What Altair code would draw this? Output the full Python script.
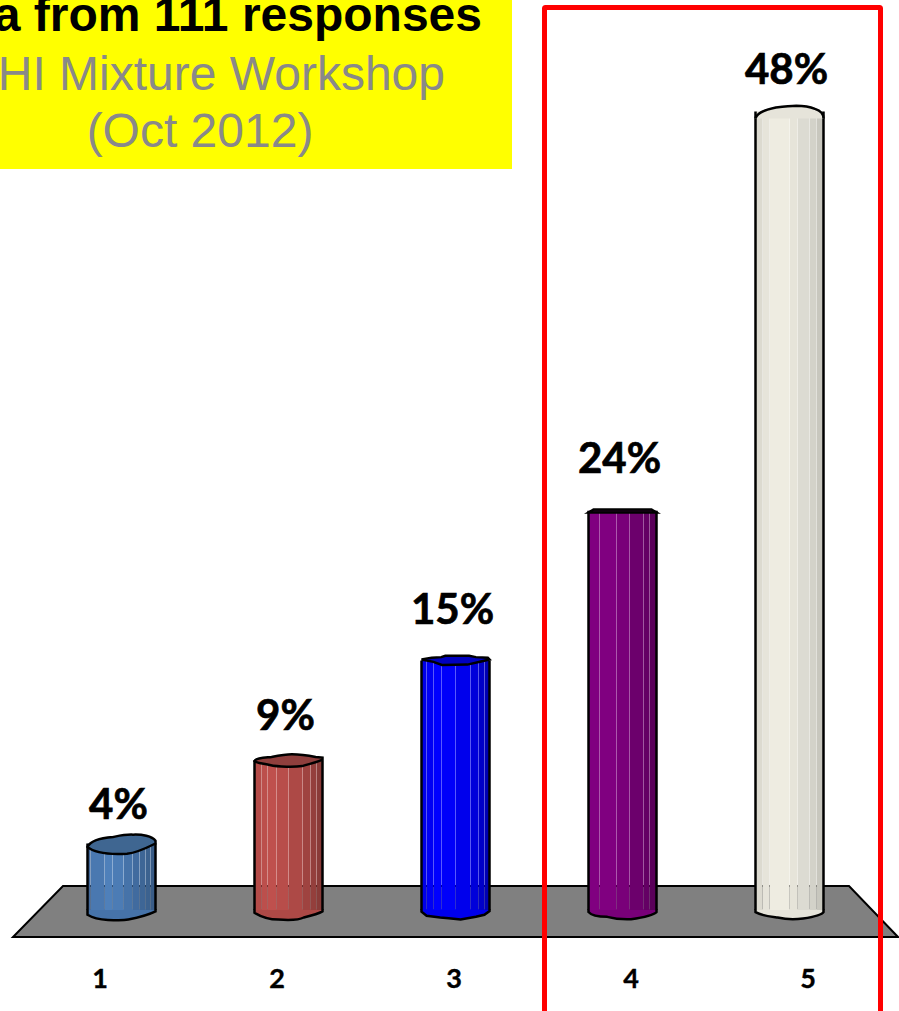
import altair as alt
import pandas as pd

# Survey results
answers = ["1", "2", "3", "4", "5"]
shares = [4, 9, 15, 24, 48]
share_labels = ["4%", "9%", "15%", "24%", "48%"]

title_bold = "a from 111 responses"
title_line2 = "HI Mixture Workshop"
title_line3 = "(Oct 2012)"

W, H = 899, 1011
COLUMN_WIDTH = 68
OUTLINE = 2.5

# The columns and the answer numbers below the floor sit on different bands
x_scale = alt.Scale(domain=answers, range=[38, 873], paddingInner=0, paddingOuter=0)
x_labels = alt.Scale(domain=answers, range=[11.5, 896.5], paddingInner=0, paddingOuter=0)
y_scale = alt.Scale(domain=[-6.07, 54.71], range=[H, 0], nice=False, zero=False)

X = alt.X("answer:N", scale=x_scale, axis=None)
Y = alt.Y("share:Q", scale=y_scale, axis=None)

# Facet colours of each column: (right edge of the facet, colour)
FACETS = [
    [(.05, "#43699b"), (.25, "#4a78b0"), (.37, "#4f80ba"), (.53, "#4c7cb5"), (.655, "#4673a9"),
     (.767, "#416b9f"), (.85, "#3e6696"), (.93, "#3c628f"), (1, "#395c87")],
    [(.105, "#b44b48"), (.195, "#bc4f4c"), (.32, "#bf504d"), (.5, "#b84d4a"), (.705, "#ad4946"),
     (.83, "#9f4340"), (.91, "#943f3c"), (1, "#8a3b38")],
    [(.08, "#0000e8"), (.17, "#0000f4"), (.3, "#0000ff"), (.5, "#0000fa"), (.72, "#0000ec"),
     (.84, "#0000da"), (.92, "#0000c8"), (1, "#0000b4")],
    [(.16, "#800080"), (.41, "#800080"), (.6, "#790079"), (.81, "#6c006c"), (.9, "#640064"),
     (1, "#5a005a")],
    [(.1, "#dcdad0"), (.2, "#e6e4da"), (.5, "#eeece1"), (.62, "#e6e4d9"), (.79, "#dcdbd2"),
     (.9, "#d3d2c9"), (1, "#c8c7be")],
]
# Top faces, as unit outlines
TOPS = [
    ("#3f6691", "M-1,.1 C-.9,-.1 -.5,-.17 -.25,-.19 C-.1,-.22 .1,-.27 .34,-.26 C.6,-.27 .9,-.22 1,-.08 "
                "L1,0 C.7,.15 .4,.28 .16,.3 C-.2,.32 -.75,.32 -1,.1 Z"),
    ("#8f3f3d", "M-1,.02 C-.95,-.08 -.7,-.08 -.5,-.1 C-.3,-.14 -.1,-.18 .1,-.18 C.4,-.18 .6,-.14 .8,-.1 "
                "L1,-.08 L1,-.02 C.8,.08 .6,.1 .4,.17 C.2,.2 -.3,.2 -.55,.14 C-.8,.08 -.95,.08 -1,.02 Z"),
    ("#0000c0", "M-1,-.03 L-.7,-.08 L-.42,-.1 L-.3,-.14 L.4,-.14 L.6,-.1 L.95,-.08 L1,-.03 "
                "L.75,.03 L.35,.12 L-.4,.13 L-.65,.04 Z"),
    ("#3a003a", "M-1,.05 L-.85,-.04 L.85,-.04 L1,.05 Z"),
    ("#e6e4da", "M-1,.2 C-.95,.02 -.6,-.08 -.4,-.12 C-.2,-.14 0,-.16 .2,-.17 C.4,-.17 .6,-.14 .75,-.08 "
                "C.9,-.03 1,.08 1,.2"),
]
# Lower rims, as open unit curves rising back to the foot of the column body
BASES = [
    "M-1,-.02 L-1,.14 C-.8,.26 -.6,.28 -.4,.29 C-.2,.3 .1,.3 .2,.28 C.5,.22 .8,.14 1,.04 L1,-.02",
    "M-1,-.02 L-1,.08 C-.8,.2 -.5,.28 -.3,.28 C0,.3 .3,.3 .45,.22 C.7,.16 .9,.1 1,.04 L1,-.02",
    "M-1,-.02 L-1,.05 L-.85,.17 L-.45,.22 L-.2,.24 L.15,.28 L.6,.2 L.85,.14 L1,.03 L1,-.02",
    "M-1,-.02 L-1,.06 C-.9,.18 -.6,.2 -.45,.2 C-.3,.24 0,.28 .25,.27 C.6,.22 .9,.16 1,.06 L1,-.02",
    "M-1,-.02 L-1,.06 C-.8,.18 -.5,.2 -.35,.22 C-.1,.28 .2,.28 .4,.25 C.7,.2 .95,.14 1,.06 L1,-.02",
]
RIM_FILL = ["#4673a9", "#ad4946", "#0000ec", "#790079", "#e6e4da"]
LABEL_DY = [6, 0, -7, -8, 2]
# Floor plate as a unit outline around the middle of the chart's lower band
FLOOR_PATH = "M-.9711,.0567 L.9956,.0567 L.8867,-.0567 L-.86,-.0567 Z"


def rgba(colour, alpha):
    r, g, b = (int(colour[i:i + 2], 16) for i in (1, 3, 5))
    return f"rgba({r},{g},{b},{alpha})"


def facet_gradient(facets):
    """Horizontal gradient with hard facets and thin see-through seams between them."""
    seam = 0.007
    stops, start = [], 0.0
    for end, colour in facets:
        stops.append(alt.GradientStop(offset=round(start + (seam if start else 0), 4), color=colour))
        stops.append(alt.GradientStop(offset=round(end - (seam if end < 1 else 0), 4), color=colour))
        if end < 1:
            stops.append(alt.GradientStop(offset=round(end - seam, 4), color=rgba(colour, .65)))
            stops.append(alt.GradientStop(offset=round(end + seam, 4), color=rgba(colour, .65)))
        start = end
    return alt.Gradient(gradient="linear", x1=0, x2=1, y1=0, y2=0, stops=stops)


rows = pd.DataFrame({"answer": answers, "share": shares, "label": share_labels, "zero": [0] * 5})
one = pd.DataFrame({"k": [0]})

# Backdrop: yellow caption box and grey floor plate
caption_box = alt.Chart(one).mark_rect(color="#ffff00").encode(
    x=alt.value(0), x2=alt.value(512), y=alt.value(0), y2=alt.value(169))

floor = alt.Chart(one).mark_point(
    shape=FLOOR_PATH, size=900 ** 2, filled=True, fill="#808080", stroke="#000000", strokeWidth=2, opacity=1
).encode(x=alt.value(450), y=alt.value(911.5))

layers = [caption_box, floor]

for i, ans in enumerate(answers):
    row = rows[rows.answer == ans]
    size = COLUMN_WIDTH ** 2
    top_fill, top_path = TOPS[i]

    base = alt.Chart(row).mark_point(
        shape=BASES[i], size=size, filled=True, stroke="#000000", strokeWidth=OUTLINE, opacity=1
    ).encode(x=X, y=alt.Y("zero:Q", scale=y_scale, axis=None), fill=alt.value(RIM_FILL[i]))
    body = alt.Chart(row).mark_bar(
        width=COLUMN_WIDTH, fill=facet_gradient(FACETS[i]), stroke=None, opacity=1
    ).encode(x=X, y=Y, y2="zero:Q")
    left_edge = alt.Chart(row).mark_rule(color="#000000", strokeWidth=OUTLINE, xOffset=-COLUMN_WIDTH / 2).encode(
        x=X, y=Y, y2="zero:Q")
    right_edge = alt.Chart(row).mark_rule(color="#000000", strokeWidth=OUTLINE, xOffset=COLUMN_WIDTH / 2).encode(
        x=X, y=Y, y2="zero:Q")
    top = alt.Chart(row).mark_point(
        shape=top_path, size=size, filled=True, fill=top_fill, stroke="#000000", strokeWidth=OUTLINE, opacity=1
    ).encode(x=X, y=Y)
    value = alt.Chart(row).mark_text(
        font="Lato", fontWeight="bold", fontSize=42, color="#000000", baseline="middle",
        stroke="#000000", strokeWidth=0.7, dx=-3, dy=LABEL_DY[i] - 43,
    ).encode(x=X, y=Y, text="label:N")
    layers += [base, body, left_edge, right_edge, top, value]

# Answer numbers below the floor
tick_text = alt.Chart(rows).mark_text(
    font="Lato", fontWeight="bold", fontSize=27, color="#000000", baseline="middle",
    stroke="#000000", strokeWidth=0.4,
).encode(
    x=alt.X("answer:N", scale=x_labels, axis=None),
    y=alt.value(980),
    text="answer:N",
)
layers.append(tick_text)

# Red frame, open past the bottom edge
frame = alt.Chart(one).mark_rect(
    fillOpacity=0, stroke="#ff0000", strokeWidth=5, cornerRadius=1
).encode(x=alt.value(544.5), x2=alt.value(880.5), y=alt.value(7.5), y2=alt.value(1040))
layers.append(frame)


def caption(text, x, y, size, colour, weight="normal", align="center"):
    return alt.Chart(pd.DataFrame({"t": [text]})).mark_text(
        font="Liberation Sans", fontSize=size, fontWeight=weight, color=colour,
        align=align, baseline="alphabetic",
    ).encode(x=alt.value(x), y=alt.value(y), text="t:N")


layers += [
    caption(title_bold, 482, 31, 48, "#000000", "bold", "right"),
    caption(title_line2, 445, 90, 48, "#898989", "normal", "right"),
    caption(title_line3, 200, 147, 48, "#898989"),
]

chart = alt.layer(*layers).resolve_scale(
    x="independent", y="independent"
).properties(
    width=W, height=H, padding=0, autosize=alt.AutoSizeParams(type="none"), background="#ffffff"
).configure_view(stroke=None)

chart.save("out.html", embed_options={"renderer": "svg", "actions": False})
